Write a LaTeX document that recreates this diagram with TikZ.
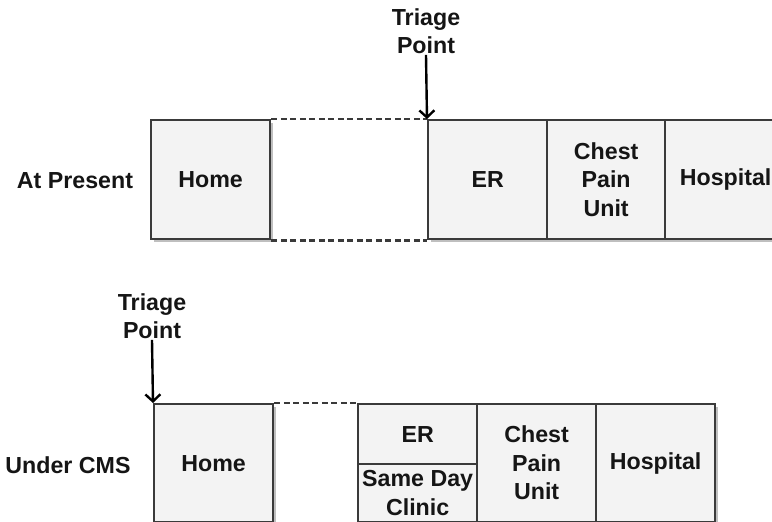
\documentclass[tikz,border=0pt]{standalone}
\usepackage{fontspec}
\setmainfont{Liberation Sans}
\usetikzlibrary{arrows.meta,shadows}
\definecolor{boxfill}{HTML}{F3F3F3}
\definecolor{boxline}{HTML}{3A3A3A}
\definecolor{txt}{HTML}{151515}
\begin{document}
\begin{tikzpicture}[x=1pt,y=-1pt,
  font=\fontsize{23.2}{28.5}\selectfont\bfseries,
  box/.style={draw=boxline, fill=boxfill, line width=2.3pt, inner sep=0pt,
    text=txt, align=center, anchor=north west,
    drop shadow={shadow xshift=2.5pt, shadow yshift=-2.5pt, opacity=0.25, fill=black}},
  lbl/.style={text=txt, align=center, inner sep=1pt},
  dashline/.style={draw=boxline, line width=2.4pt, dash pattern=on 6pt off 3.5pt},
  arr/.style={draw=black, line width=2.4pt, -{Straight Barb[length=7pt,width=15pt,line width=2.4pt]}}]
\clip (0,0) rectangle (772,522);
\useasboundingbox (0,0) rectangle (772,522);
% top row
\node[box, minimum width=119, minimum height=119] (home1) at (150,119) {Home};
\node[box, minimum width=119, minimum height=119] (er1) at (427,119) {ER};
\node[box, minimum width=118, minimum height=119] (chest1) at (546,119) {Chest\\Pain\\Unit};
\node[box, minimum width=121, minimum height=119] (hosp1) at (664,119) {Hospital};
\draw[dashline] (home1.north east) -- (er1.north west);
\draw[dashline] (home1.south east) -- (er1.south west);
\node[lbl] (lab1) at (75,181) {At Present};
\node[lbl] (tp1) at (426,31) {Triage\\Point};
\draw[arr] (tp1.south) -- (er1.north west);
% bottom row
\node[box, minimum width=119, minimum height=118] (home2) at (153,403) {Home};
\node[box, minimum width=119, minimum height=60] (er2) at (357,403) {ER};
\node[box, minimum width=119, minimum height=58] (sdc2) at (357,463) {Same Day\\Clinic};
\node[box, minimum width=119, minimum height=118] (chest2) at (476,403) {Chest\\Pain\\Unit};
\node[box, minimum width=119, minimum height=118] (hosp2) at (595,403) {Hospital};
\draw[dashline] (home2.north east) -- (er2.north west);
\draw[dashline] (home2.south east) -- (sdc2.south west);
\node[lbl] (lab2) at (68,465) {Under CMS};
\node[lbl] (tp2) at (152,316) {Triage\\Point};
\draw[arr] (tp2.south) -- (home2.north west);
\end{tikzpicture}
\end{document}
